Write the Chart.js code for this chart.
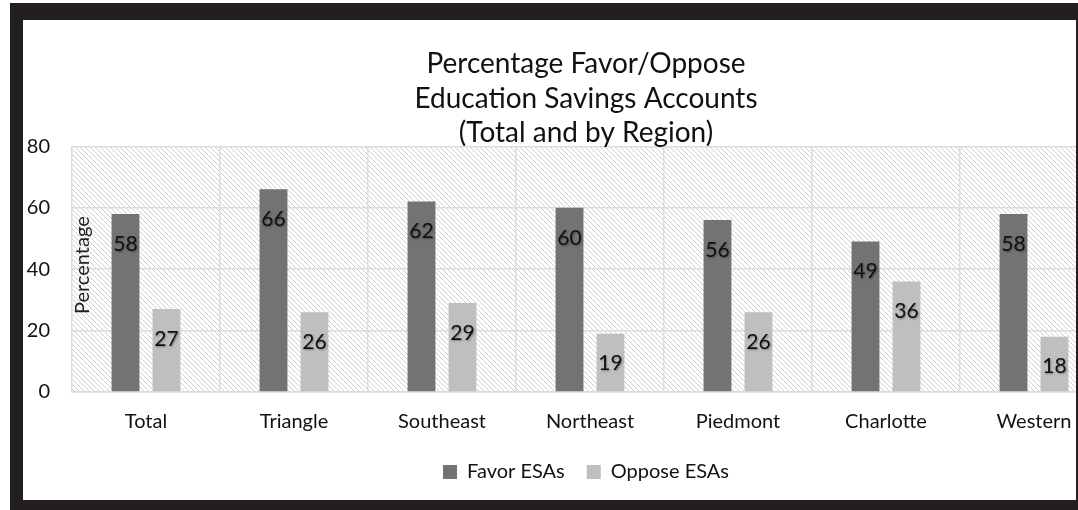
<!DOCTYPE html>
<html>
<head>
<meta charset="utf-8">
<script src="https://cdn.jsdelivr.net/npm/chart.js@4"></script>
<style>
  html, body { margin: 0; padding: 0; background: #fff; }
  #frame {
    position: absolute; left: 10px; top: 3px;
    width: 1053px; height: 480px;
    border-style: solid; border-color: #231f20;
    border-width: 17px 2px 10px 13px;
    background: #fff; overflow: hidden;
  }
  #esaChart { position: absolute; left: 0; top: 0; }
</style>
</head>
<body>
<div id="frame"><canvas id="esaChart" width="1126" height="480"></canvas></div>
<script>
const regions = ['Total', 'Triangle', 'Southeast', 'Northeast', 'Piedmont', 'Charlotte', 'Western'];
const favor = [58, 66, 62, 60, 56, 49, 58];
const oppose = [27, 26, 29, 19, 26, 36, 18];
const yTicks = [0, 20, 40, 60, 80];

const FONT = 'Lato, "Open Sans", sans-serif';

// diagonal hatch for the plot background
function hatchPattern(ctx) {
  const c = document.createElement('canvas');
  c.width = 5; c.height = 5;
  const g = c.getContext('2d');
  g.fillStyle = '#ffffff';
  g.fillRect(0, 0, 5, 5);
  g.strokeStyle = '#cfcfcf';
  g.lineWidth = 1;
  g.beginPath();
  g.moveTo(-1, -1); g.lineTo(6, 6);
  g.moveTo(-1, 4); g.lineTo(1, 6);
  g.moveTo(4, -1); g.lineTo(6, 1);
  g.stroke();
  return ctx.createPattern(c, 'repeat');
}

const plotBackground = {
  id: 'plotBackground',
  beforeDraw(chart) {
    const { ctx, chartArea: a } = chart;
    ctx.save();
    ctx.fillStyle = hatchPattern(ctx);
    ctx.fillRect(a.left, a.top, a.right - a.left, a.bottom - a.top);
    ctx.restore();
  }
};

const barLabels = {
  id: 'barLabels',
  afterDatasetsDraw(chart) {
    const ctx = chart.ctx;
    ctx.save();
    ctx.font = '21px ' + FONT;
    ctx.fillStyle = '#111';
    ctx.textAlign = 'center';
    ctx.textBaseline = 'middle';
    ctx.shadowColor = 'rgba(0,0,0,0.35)';
    ctx.shadowBlur = 2;
    ctx.shadowOffsetX = 1;
    ctx.shadowOffsetY = 1;
    chart.data.datasets.forEach((ds, i) => {
      chart.getDatasetMeta(i).data.forEach((bar, j) => {
        ctx.fillText(ds.data[j], bar.x, bar.y + 30);
      });
    });
    ctx.restore();
  }
};

// y axis title sits inside the plot area, like the original
const yTitle = {
  id: 'yTitle',
  afterDraw(chart) {
    const { ctx, chartArea: a } = chart;
    ctx.save();
    ctx.translate(a.left + 11, (a.top + a.bottom) / 2 - 4);
    ctx.rotate(-Math.PI / 2);
    ctx.font = '20px ' + FONT;
    ctx.fillStyle = '#222';
    ctx.textAlign = 'center';
    ctx.textBaseline = 'middle';
    ctx.fillText('Percentage', 0, 0);
    ctx.restore();
  }
};

const ctx = document.getElementById('esaChart').getContext('2d');
const esaChart = new Chart(ctx, {
  type: 'bar',
  data: {
    labels: regions,
    datasets: [
      { label: 'Favor ESAs', data: favor, backgroundColor: '#737373' },
      { label: 'Oppose ESAs', data: oppose, backgroundColor: '#bfbfbf' }
    ]
  },
  options: {
    responsive: false,
    animation: false,
    categoryPercentage: 0.554,
    barPercentage: 0.68,
    layout: { padding: { left: 0, right: 0, top: 0, bottom: 8 } },
    scales: {
      x: {
        afterFit(scale) { scale.height -= 12; },
        grid: { color: '#dcdcdc', lineWidth: 1.5, offset: true, drawTicks: false },
        border: { color: '#dcdcdc', width: 1.5 },
        ticks: { color: '#111', font: { family: FONT, size: 20 }, padding: 18 }
      },
      y: {
        min: 0, max: 80,
        afterFit(scale) { scale.width = 49; },
        afterBuildTicks(scale) { scale.ticks = yTicks.map(v => ({ value: v })); },
        grid: { color: '#dcdcdc', lineWidth: 1.5, drawTicks: false },
        border: { display: false },
        ticks: { color: '#111', font: { family: FONT, size: 20 }, padding: 22 }
      },
      // empty right-hand strip so the title and legend centre like the original
      pad: {
        position: 'right',
        afterFit(scale) { scale.width = 41; },
        grid: { display: false },
        border: { display: false },
        ticks: { display: false }
      }
    },
    plugins: {
      title: {
        display: true,
        text: ['Percentage Favor/Oppose', 'Education Savings Accounts', '(Total and by Region)'],
        color: '#111',
        font: { family: FONT, size: 28, weight: 'normal', lineHeight: 1.23 },
        padding: { top: 27, bottom: -4 }
      },
      legend: {
        position: 'bottom',
        labels: {
          color: '#111',
          font: { family: FONT, size: 20 },
          boxWidth: 14, boxHeight: 14, padding: 22
        }
      },
      tooltip: { enabled: false }
    }
  },
  plugins: [plotBackground, barLabels, yTitle]
});
</script>
</body>
</html>
